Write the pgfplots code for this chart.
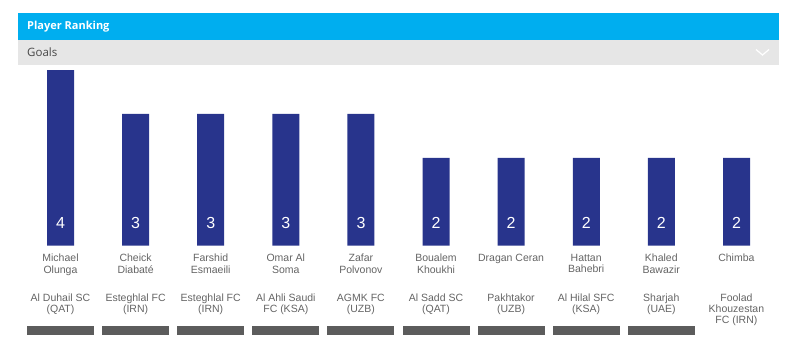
\documentclass[border=0pt]{standalone}
\usepackage{pgfplots}
\pgfplotsset{compat=1.18}
\usepackage{fontspec}
\setmainfont{Liberation Sans}
\newfontfamily\headfont{Open Sans}
\definecolor{hdrblue}{RGB}{0,174,239}
\definecolor{band}{RGB}{230,230,230}
\definecolor{barnavy}{RGB}{40,52,140}
\definecolor{lbl}{RGB}{100,100,100}
\definecolor{plate}{RGB}{92,92,92}
\tikzset{valnode/.style={text=white,font=\fontsize{16}{16}\selectfont}}
\pgfplotstableread{
x y
0 4
1 3
2 3
3 3
4 3
5 2
6 2
7 2
8 2
9 2
}\goals
\begin{document}
\begin{tikzpicture}[x=1pt,y=1pt]
\path (0,0) rectangle (800,-351);
% header
\fill[hdrblue] (18,-13) rectangle (779,-39.5);
\fill[band] (18,-39.5) rectangle (779,-65);
\node[anchor=west,inner sep=0,text=white,font=\headfont\bfseries\fontsize{11}{12}\selectfont] at (27,-26.5) {Player Ranking};
\node[anchor=west,inner sep=0,text=black!72,font=\headfont\fontsize{11.5}{12}\selectfont] at (27,-52.5) {Goals};
\draw[white,line width=1.2pt] (756,-49.5) -- (762.5,-55) -- (769,-49.5);
\begin{axis}[
  at={(22.95pt,-245.5pt)}, anchor=south west,
  scale only axis, width=751.1pt, height=175.5pt,
  xmin=-0.5, xmax=9.5, ymin=0, ymax=4,
  axis lines=none, ticks=none, clip=false,
  ybar, bar width=27pt,
]
\addplot[fill=barnavy, draw=none] table[x=x,y=y] {\goals};
\node[valnode] at (axis cs:0,0.51) {4};
\node[valnode] at (axis cs:1,0.51) {3};
\node[valnode] at (axis cs:2,0.51) {3};
\node[valnode] at (axis cs:3,0.51) {3};
\node[valnode] at (axis cs:4,0.51) {3};
\node[valnode] at (axis cs:5,0.51) {2};
\node[valnode] at (axis cs:6,0.51) {2};
\node[valnode] at (axis cs:7,0.51) {2};
\node[valnode] at (axis cs:8,0.51) {2};
\node[valnode] at (axis cs:9,0.51) {2};
\end{axis}
\begin{scope}[every node/.style={anchor=north,inner sep=0,align=center,text=lbl,font=\fontsize{10.5}{11.2}\selectfont}]
\foreach \i/\p/\c in {
 0/{Michael\\Olunga}/{Al Duhail SC\\(QAT)},
 1/{Cheick\\Diabaté}/{Esteghlal FC\\(IRN)},
 2/{Farshid\\Esmaeili}/{Esteghlal FC\\(IRN)},
 3/{Omar Al\\Soma}/{Al Ahli Saudi\\FC (KSA)},
 4/{Zafar\\Polvonov}/{AGMK FC\\(UZB)},
 5/{Boualem\\Khoukhi}/{Al Sadd SC\\(QAT)},
 6/{Dragan Ceran}/{Pakhtakor\\(UZB)},
 7/{Hattan\\Bahebri}/{Al Hilal SFC\\(KSA)},
 8/{Khaled\\Bawazir}/{Sharjah\\(UAE)},
 9/{Chimba}/{Foolad\\Khouzestan\\FC (IRN)}}{
  \node at (60.5+75.1*\i,-254) {\p};
  \node at (60.5+75.1*\i,-293.5) {\c};
}
\end{scope}
\foreach \i in {0,...,8}{
  \fill[plate] (60.5+75.1*\i-33.5,-325.5) rectangle (60.5+75.1*\i+33.5,-335);
}
\end{tikzpicture}
\end{document}
